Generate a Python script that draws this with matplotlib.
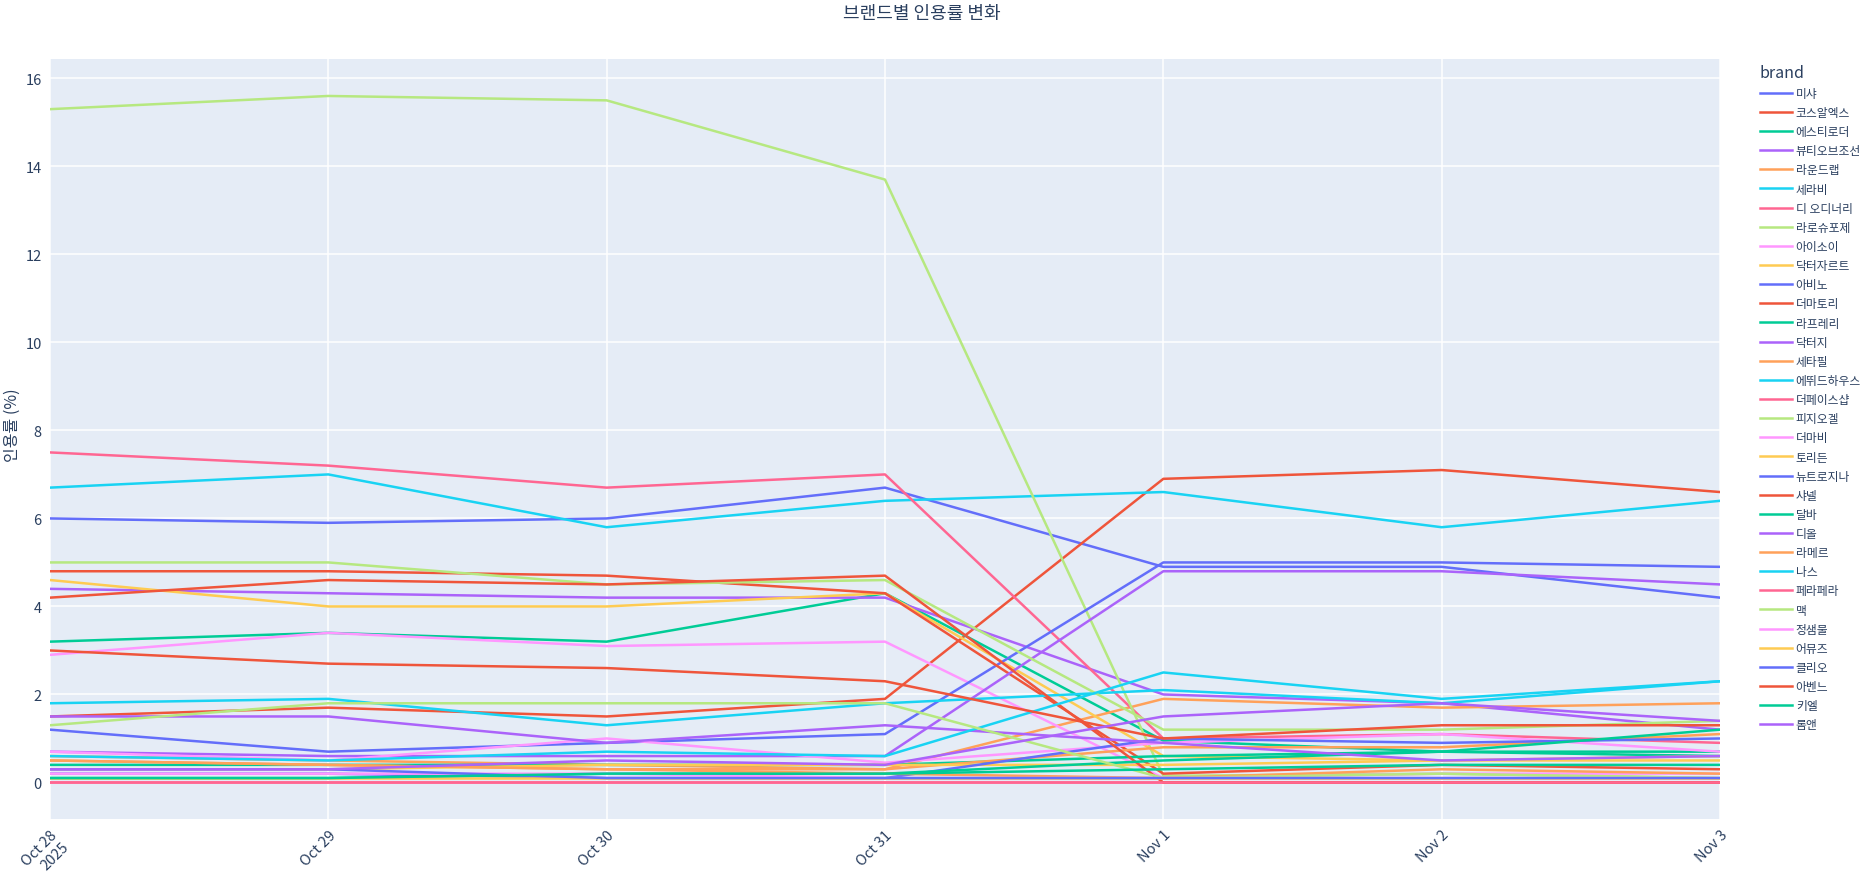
import matplotlib
matplotlib.use("Agg")
import matplotlib.pyplot as plt
import pandas as pd

plt.rcParams['font.family'] = ['Noto Sans CJK KR', 'DejaVu Sans']

dates = ["2025-10-28", "2025-10-29", "2025-10-30", "2025-10-31",
         "2025-11-01", "2025-11-02", "2025-11-03"]
tick_labels = ["Oct 28\n2025", "Oct 29", "Oct 30", "Oct 31", "Nov 1", "Nov 2", "Nov 3"]

brands = ["미샤", "코스알엑스", "에스티로더", "뷰티오브조선", "라운드랩", "세라비",
          "디 오디너리", "라로슈포제", "아이소이", "닥터자르트", "아비노", "더마토리",
          "라프레리", "닥터지", "세타필", "에뛰드하우스", "더페이스샵", "피지오겔",
          "더마비", "토리든", "뉴트로지나", "샤넬", "달바", "디올", "라메르", "나스",
          "페라페라", "맥", "정샘물", "어뮤즈", "클리오", "아벤느", "키엘", "롬앤"]

values = {
    "미샤":       [6.0, 5.9, 6.0, 6.7, 4.9, 4.9, 4.2],
    "코스알엑스": [1.5, 1.7, 1.5, 1.9, 6.9, 7.1, 6.6],
    "에스티로더": [3.2, 3.4, 3.2, 4.3, 0.95, 0.7, 0.7],
    "뷰티오브조선": [4.4, 4.3, 4.2, 4.2, 2.0, 1.8, 1.2],
    "라운드랩":   [0.6, 0.5, 0.4, 0.3, 1.9, 1.7, 1.8],
    "세라비":     [6.7, 7.0, 5.8, 6.4, 6.6, 5.8, 6.4],
    "디 오디너리": [7.5, 7.2, 6.7, 7.0, 1.0, 1.1, 0.9],
    "라로슈포제": [15.3, 15.6, 15.5, 13.7, 0.15, 0.2, 0.1],
    "아이소이":   [2.9, 3.4, 3.1, 3.2, 0.1, 0.2, 0.2],
    "닥터자르트": [4.6, 4.0, 4.0, 4.3, 0.6, 0.5, 0.5],
    "아비노":     [1.2, 0.7, 0.9, 1.1, 5.0, 5.0, 4.9],
    "더마토리":   [4.8, 4.8, 4.7, 4.3, 0.2, 0.4, 0.3],
    "라프레리":   [0.4, 0.4, 0.4, 0.4, 0.6, 0.7, 0.6],
    "닥터지":     [0.7, 0.6, 0.6, 0.6, 4.8, 4.8, 4.5],
    "세타필":     [0.5, 0.4, 0.3, 0.3, 0.8, 0.8, 1.1],
    "에뛰드하우스": [1.8, 1.9, 1.3, 1.8, 2.1, 1.8, 2.3],
    "더페이스샵": [0.0, 0.0, 0.0, 0.0, 0.0, 0.0, 0.0],
    "피지오겔":   [5.0, 5.0, 4.5, 4.6, 1.2, 1.2, 1.4],
    "더마비":     [0.7, 0.5, 1.0, 0.45, 0.9, 1.1, 0.7],
    "토리든":     [0.3, 0.3, 0.4, 0.4, 0.4, 0.5, 0.6],
    "뉴트로지나": [0.2, 0.2, 0.1, 0.1, 1.0, 0.9, 1.0],
    "샤넬":       [4.2, 4.6, 4.5, 4.7, 0.0, 0.0, 0.0],
    "달바":       [0.1, 0.1, 0.2, 0.2, 0.5, 0.7, 1.2],
    "디올":       [1.5, 1.5, 0.9, 1.3, 0.9, 0.5, 0.6],
    "라메르":     [0.5, 0.4, 0.3, 0.2, 0.1, 0.3, 0.2],
    "나스":       [0.6, 0.5, 0.7, 0.6, 2.5, 1.9, 2.3],
    "페라페라":   [0.0, 0.0, 0.0, 0.0, 0.0, 0.0, 0.0],
    "맥":         [1.3, 1.8, 1.8, 1.8, 0.1, 0.2, 0.1],
    "정샘물":     [0.2, 0.2, 0.2, 0.1, 0.1, 0.1, 0.1],
    "어뮤즈":     [0.1, 0.1, 0.1, 0.1, 0.1, 0.1, 0.1],
    "클리오":     [0.3, 0.3, 0.1, 0.1, 0.1, 0.1, 0.1],
    "아벤느":     [3.0, 2.7, 2.6, 2.3, 1.0, 1.3, 1.3],
    "키엘":       [0.1, 0.1, 0.2, 0.2, 0.3, 0.4, 0.4],
    "롬앤":       [0.3, 0.3, 0.5, 0.4, 1.5, 1.8, 1.4],
}

palette = ['#636EFA', '#EF553B', '#00CC96', '#AB63FA', '#FFA15A',
           '#19D3F3', '#FF6692', '#B6E880', '#FF97FF', '#FECB52']
text_color = '#2a3f5f'

x = pd.to_datetime(dates)

fig = plt.figure(figsize=(18.69, 8.79), dpi=100)
ax = fig.add_axes([50 / 1869, 1 - 820 / 879, 1670 / 1869, 760 / 879])
ax.set_facecolor('#E5ECF6')

for i, b in enumerate(brands):
    ax.plot(x, values[b], color=palette[i % 10], lw=1.8, label=b, zorder=3)

ax.set_xlim(x[0], x[-1])
ax.set_ylim(-0.83, 16.44)
ax.set_yticks(range(0, 17, 2))
ax.set_xticks(x)
ax.set_xticklabels(tick_labels, rotation=45, ha='right', rotation_mode='anchor')
ax.grid(color='white', lw=1.1, zorder=0)
ax.axhline(0, color='white', lw=2, zorder=1)
ax.tick_params(length=0, labelsize=10.5, colors=text_color, pad=6)
for s in ax.spines.values():
    s.set_visible(False)

# y label placed by hand so it is not clipped at the figure edge
fig.text(12 / 1869, 1 - 425 / 879, "인용률 (%)", rotation=90, ha='center',
         va='center', fontsize=11.5, color=text_color)
fig.text(0.493, 1 - 14 / 879, "브랜드별 인용률 변화", ha='center', va='center',
         fontsize=13, color=text_color)

leg = ax.legend(loc='upper left', bbox_to_anchor=(1755 / 1869, 1 - 60 / 879),
                bbox_transform=fig.transFigure, frameon=False, fontsize=8.5,
                title="brand", title_fontsize=11.5, handlelength=2.7,
                handletextpad=0.35, labelspacing=0.52, borderaxespad=0,
                alignment='left')
for t in leg.get_texts():
    t.set_color(text_color)
leg.get_title().set_color(text_color)

fig.savefig("out.png", dpi=100)
